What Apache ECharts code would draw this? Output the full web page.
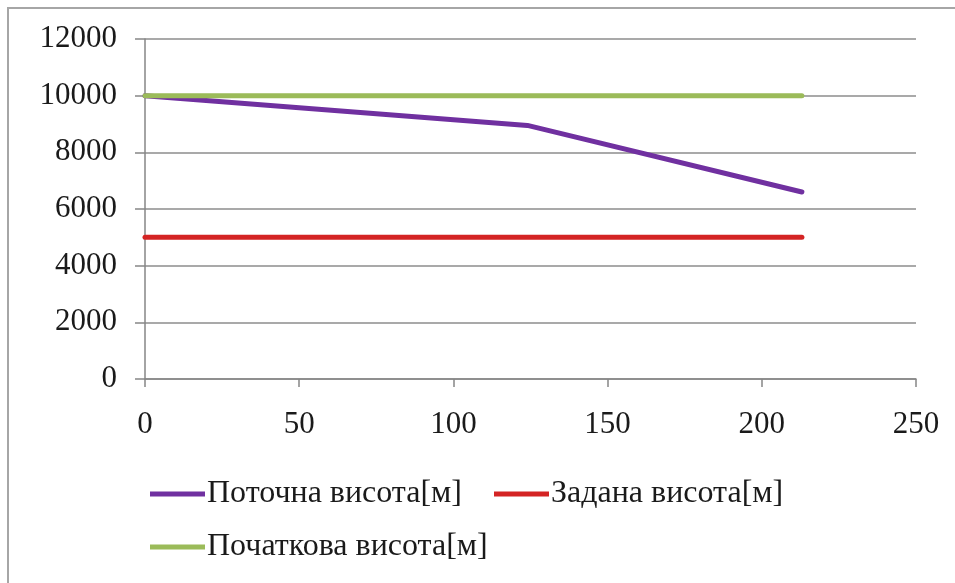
<!DOCTYPE html>
<html>
<head>
<meta charset="utf-8">
<script src="https://cdn.jsdelivr.net/npm/echarts@6/dist/echarts.min.js"></script>
<style>
  html, body { margin: 0; padding: 0; background: #fff; }
  #chart { width: 955px; height: 583px; }
</style>
</head>
<body>
<div id="chart"></div>
<script>
// Flight altitude over time: current, target and initial heights
const seriesNames = ['Поточна висота[м]', 'Задана висота[м]', 'Початкова висота[м]'];
const currentHeight = [[0, 10000], [124, 8950], [213, 6600]];
const targetHeight = [[0, 5000], [213, 5000]];
const initialHeight = [[0, 10000], [213, 10000]];
const seriesColors = ['#7030a0', '#d42424', '#9bbb59'];

const FONT = '"Liberation Serif", "Times New Roman", serif';
const chart = echarts.init(document.getElementById('chart'));

const lineSeries = (name, data, color) => ({
  name: name,
  type: 'line',
  data: data,
  symbol: 'none',
  animation: false,
  lineStyle: { color: color, width: 5, cap: 'round' },
  itemStyle: { color: color }
});

const legendText = { color: '#1a1a1a', fontSize: 32, fontFamily: FONT, padding: [0, 0, 0, -3] };

chart.setOption({
  backgroundColor: '#ffffff',
  textStyle: { fontFamily: FONT },
  graphic: [{
    type: 'rect',
    shape: { x: 8, y: 8, width: 980, height: 620 },
    style: { fill: 'none', stroke: '#a6a6a6', lineWidth: 2 },
    silent: true
  }],
  grid: { left: 145, right: 39, top: 39, bottom: 204 },
  xAxis: {
    type: 'value',
    min: 0, max: 250, interval: 50,
    axisLine: { show: true, lineStyle: { color: '#868686', width: 1.5 } },
    axisTick: { show: true, length: 8, lineStyle: { color: '#868686', width: 1.5 } },
    splitLine: { show: false },
    axisLabel: { color: '#1a1a1a', fontSize: 31, fontFamily: FONT, margin: 30 }
  },
  yAxis: {
    type: 'value',
    min: 0, max: 12000, interval: 2000,
    axisLine: { show: true, lineStyle: { color: '#868686', width: 1.5 } },
    axisTick: { show: true, length: 10, lineStyle: { color: '#868686', width: 1.5 } },
    splitLine: { show: true, lineStyle: { color: '#8c8c8c', width: 1.5 } },
    axisLabel: {
      color: '#1a1a1a', fontSize: 31, fontFamily: FONT, margin: 28,
      formatter: (v) => String(v)
    }
  },
  legend: [{
    data: [seriesNames[0], seriesNames[1]],
    left: 150, top: 478, padding: 0,
    icon: 'rect', itemWidth: 55, itemHeight: 5, itemGap: 32,
    textStyle: legendText
  }, {
    data: [seriesNames[2]],
    left: 150, top: 531, padding: 0,
    icon: 'rect', itemWidth: 55, itemHeight: 5,
    textStyle: legendText
  }],
  series: [
    lineSeries(seriesNames[0], currentHeight, seriesColors[0]),
    lineSeries(seriesNames[1], targetHeight, seriesColors[1]),
    lineSeries(seriesNames[2], initialHeight, seriesColors[2])
  ]
});
</script>
</body>
</html>
